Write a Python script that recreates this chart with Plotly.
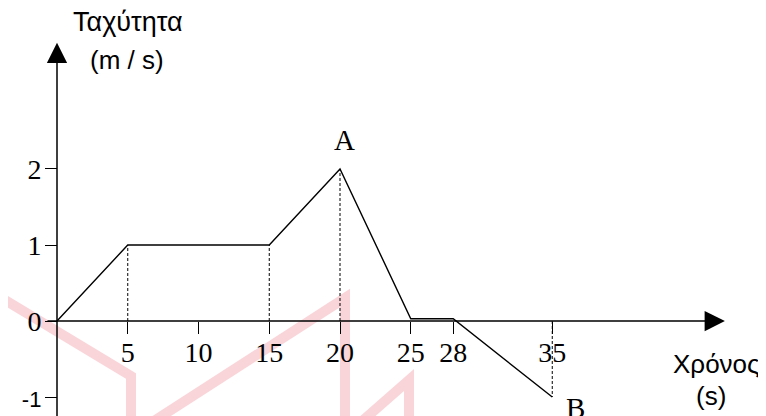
import plotly.graph_objects as go

# Velocity-time graph values
times = [0, 5, 15, 20, 25, 28, 35]
speeds = [0, 1, 1, 2, 0.03, 0.03, -1]

# Dashed drop lines (time, speed) from the axis to the curve
drop_times = [5, 15, 20, 35]
drop_speeds = [1, 1, 2, -1]

x_ticks = [5, 10, 15, 20, 25, 28, 35]
y_ticks = [-1, 0, 1, 2]
y_tick_text = ['<span style="font-family:Liberation Sans;font-size:22px">-1</span>', "0", "1", "2"]

serif = "Liberation Serif"
sans = "Liberation Sans"

W, H = 766, 416
OFF = 8  # page body margin, positions below are taken from the reference minus this
x_range = [-3.463, 50.67]
y_range = [-1.355, 4.118]


def px(x):
    return (x - OFF) / W


def py(y):
    return 1 - (y - OFF) / H


fig = go.Figure()

fig.add_trace(go.Scatter(x=times, y=speeds, mode="lines",
                         line=dict(color="black", width=1.4), hoverinfo="skip"))

for t, v in zip(drop_times, drop_speeds):
    fig.add_trace(go.Scatter(x=[t, t], y=[0, v], mode="lines",
                             line=dict(color="black", width=1, dash="3px,2px"), hoverinfo="skip"))

# faint pink watermark in the background (pixel polylines of the reference)
marks = [
    [(0, 297), (131, 376), (131, 430)],
    [(140, 430), (345, 298), (345, 430)],
    [(352, 430), (409, 380), (409, 430)],
]
for poly in marks:
    path = "M " + " L ".join(f"{px(x)},{py(y)}" for x, y in poly)
    fig.add_shape(type="path", path=path, xref="paper", yref="paper", layer="below",
                  line=dict(color="rgba(240,150,160,0.4)", width=10))

# axes drawn as arrows
fig.add_annotation(x=0, y=3.66, ax=0, ay=y_range[0], xref="x", yref="y", axref="x", ayref="y",
                   text="", showarrow=True, arrowhead=2, arrowsize=2.7, arrowwidth=1.5, arrowcolor="black")
fig.add_annotation(x=47.2, y=0, ax=-0.78, ay=0, xref="x", yref="y", axref="x", ayref="y",
                   text="", showarrow=True, arrowhead=2, arrowsize=2.7, arrowwidth=1.5, arrowcolor="black")

# axis titles and point labels
titles = [("Ταχύτητα", 128, 22, 27), ("(m / s)", 127, 60, 26),
          ("Χρόνος", 716, 364, 26), ("(s)", 711, 396, 26)]
for txt, x, y, size in titles:
    fig.add_annotation(x=px(x), y=py(y), xref="paper", yref="paper", text=txt,
                       xanchor="center", yanchor="middle", showarrow=False,
                       font=dict(family=sans, size=size, color="black"))

fig.add_annotation(x=20, y=2, text="A", showarrow=False, yanchor="bottom", yshift=11, xshift=4,
                   font=dict(family=serif, size=29, color="black"))
fig.add_annotation(x=35, y=-1, text="B", showarrow=False, yanchor="top", xanchor="left",
                   xshift=12, yshift=7, font=dict(family=serif, size=29, color="black"))

fig.update_layout(
    width=W, height=H,
    margin=dict(l=0, r=0, t=0, b=0),
    paper_bgcolor="white", plot_bgcolor="white",
    showlegend=False,
    xaxis=dict(range=x_range, domain=[0, 1], anchor="free",
               position=-y_range[0] / (y_range[1] - y_range[0]),
               showgrid=False, zeroline=False, showline=False,
               tickvals=x_ticks, ticks="outside", ticklen=12, tickwidth=1.2, tickcolor="black",
               ticklabelstandoff=-6,
               tickfont=dict(family=serif, size=28, color="black"), fixedrange=True),
    yaxis=dict(range=y_range, domain=[0, 1], anchor="free",
               position=-x_range[0] / (x_range[1] - x_range[0]),
               showgrid=False, zeroline=False, showline=False,
               tickvals=y_ticks, ticktext=y_tick_text, ticks="outside", ticklen=12,
               tickwidth=1.2, tickcolor="black", ticklabelstandoff=-2,
               tickfont=dict(family=serif, size=28, color="black"), fixedrange=True),
)

fig.write_html("out.html")
